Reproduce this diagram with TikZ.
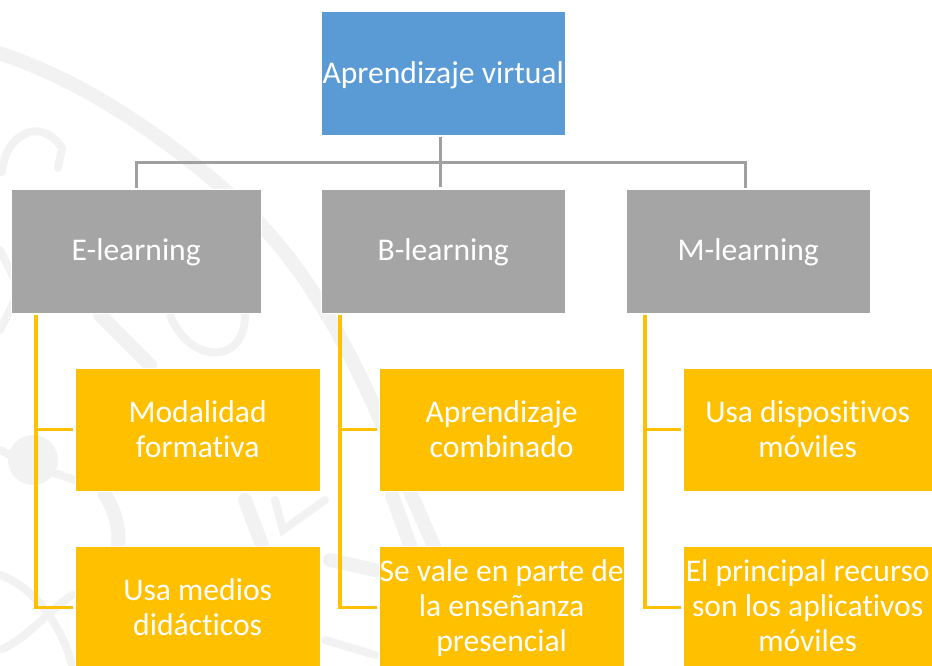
\documentclass[tikz,border=0pt]{standalone}
\usepackage{fontspec}
\setmainfont[RawFeature={-liga;-clig}]{Carlito}
\newcommand{\lowertext}[2]{\raisebox{-#1}[\height][\depth]{#2}}
\newcommand{\threelines}[3]{\lowertext{1.7pt}{\begin{tabular}{@{}c@{}}#1\\#2\\#3\end{tabular}}}
\tikzset{
  wm/.style={draw=black!5,line cap=round,line width=10.5pt,fill=none},
  wmthin/.style={wm,line width=6pt},
  boxbase/.style={draw=white,line width=0.5pt,inner sep=0pt,outer sep=0pt,text=white,align=center,
    font=\fontsize{23.7}{26.3}\selectfont,anchor=north west},
  rootbox/.style={boxbase,fill=rootblue,minimum width=182.6pt,minimum height=92.5pt},
  graybox/.style={boxbase,fill=boxgray,minimum width=182.6pt,minimum height=92.5pt},
  leafbox/.style={boxbase,fill=leafamber,minimum width=184pt,minimum height=92.25pt},
  grayline/.style={draw=linegray,line width=2.25pt},
  amberline/.style={draw=leafamber,line width=2.3pt,shorten >=1.5pt},
}
\definecolor{rootblue}{HTML}{5B9BD5}
\definecolor{boxgray}{HTML}{A5A5A5}
\definecolor{linegray}{HTML}{A0A0A0}
\definecolor{leafamber}{HTML}{FFC000}
\begin{document}
\begin{tikzpicture}[x=0.75pt,y=-0.75pt]
\useasboundingbox (0,0) rectangle (932,665);
\clip (0,0) rectangle (932,665);
% watermark
\draw[wm] (-5,52) .. controls (70,75) and (150,125) .. (225,190) .. controls (300,255) and (350,340) .. (405,480);
\draw[wm] (405,480) -- (440,560);
\draw[wmthin] (2,172) .. controls (5,135) and (40,115) .. (62,148) -- (58,168);
\draw[wmthin] (0,250) -- (20,290) -- (0,330);
\fill[black!5] (33,460) circle (25);
\draw[wmthin] (0,450) -- (30,465) -- (75,480);
\draw[wm] (100,315) -- (150,365);
\draw[wmthin] (170,315) .. controls (190,365) and (245,365) .. (245,315);
\draw[wm] (105,495) .. controls (115,510) and (120,530) .. (118,545);
\draw[wm] (245,500) -- (262,545);
\draw[wmthin] (275,500) -- (283,530) -- (325,500);
\draw[wm] (392,495) -- (410,545);
\draw[wm] (330,560) -- (375,570);
\draw[wmthin] (0,575) .. controls (30,585) and (60,620) .. (72,665);
\draw[wmthin] (0,650) .. controls (25,640) and (50,610) .. (72,595);
\draw[wmthin] (325,640) -- (375,655);
% nodes
\node[rootbox] (root) at (321.5,11.5) {\lowertext{1.5pt}{Aprendizaje virtual}};
\node[graybox,minimum width=187pt] (E) at (11.5,189.5) {\lowertext{0.7pt}{E-learning}};
\node[graybox] (B) at (321.5,189.5) {\lowertext{0.7pt}{B-learning}};
\node[graybox] (M) at (626.5,189.5) {\lowertext{0.7pt}{M-learning}};
\node[leafbox] (E1) at (75,368) {Modalidad\\formativa};
\node[leafbox] (E2) at (75,546) {Usa medios\\didácticos};
\node[leafbox] (B1) at (379,368) {Aprendizaje\\combinado};
\node[leafbox] (B2) at (379,546) {\threelines{Se vale en parte de}{la enseñanza}{presencial}};
\node[leafbox,minimum width=187pt] (M1) at (683,368) {Usa dispositivos\\móviles};
\node[leafbox,minimum width=187pt] (M2) at (683,546) {\threelines{El principal recurso}{son los aplicativos}{móviles}};
% connector ports
\coordinate (rootport) at (440,137);
\coordinate (bus) at (440,162);
\coordinate (Eport) at (136,188);
\coordinate (Bport) at (440,187);
\coordinate (Mport) at (745,188);
\coordinate (Et) at (36,315);
\coordinate (Bt) at (340,315);
\coordinate (Mt) at (645,315);
% connectors
\draw[grayline] (rootport) -- (Bport);
\draw[grayline] (Eport) |- (bus) -| (Mport);
\foreach \t/\a/\b in {Et/E1/E2,Bt/B1/B2,Mt/M1/M2}{
  \draw[amberline] (\t) |- (\a.west);
  \draw[amberline] (\t) |- (\b.west);
}
\end{tikzpicture}
\end{document}
